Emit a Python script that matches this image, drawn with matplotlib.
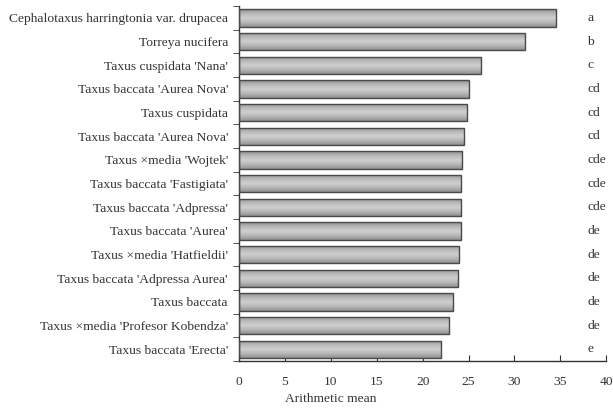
import numpy as np
import matplotlib
matplotlib.use("Agg")
import matplotlib.pyplot as plt
from matplotlib.colors import LinearSegmentedColormap

species = [
    "Cephalotaxus harringtonia var. drupacea",
    "Torreya nucifera",
    "Taxus cuspidata 'Nana'",
    "Taxus baccata 'Aurea Nova'",
    "Taxus cuspidata",
    "Taxus baccata 'Aurea Nova'",
    "Taxus \u00d7media 'Wojtek'",
    "Taxus baccata 'Fastigiata'",
    "Taxus baccata 'Adpressa'",
    "Taxus baccata 'Aurea'",
    "Taxus \u00d7media 'Hatfieldii'",
    "Taxus baccata 'Adpressa Aurea'",
    "Taxus baccata",
    "Taxus \u00d7media 'Profesor Kobendza'",
    "Taxus baccata 'Erecta'",
]
means = [34.5, 31.1, 26.4, 25.0, 24.8, 24.5, 24.3, 24.2, 24.2, 24.2, 24.0, 23.9, 23.3, 22.9, 22.0]
groups = ["a", "b", "c", "cd", "cd", "cd", "cde", "cde", "cde", "de", "de", "de", "de", "de", "e"]
xticks = [0, 5, 10, 15, 20, 25, 30, 35, 40]

plt.rcParams['font.family'] = ['Liberation Serif', 'DejaVu Serif']
txt = '#333333'
fs = 9.7

fig = plt.figure(figsize=(6.13, 4.09), dpi=100)
ax = fig.add_axes([0.39, 0.117, 0.599, 0.868])

n = len(species)
ypos = np.arange(n)
bars = ax.barh(ypos, means, height=0.74, color='none', edgecolor='#4a4a4a', linewidth=1.0, zorder=3)

cmap = LinearSegmentedColormap.from_list('g', ['#909090', '#b8b8b8', '#cfcfcf', '#b8b8b8', '#909090'])
grad = np.linspace(0, 1, 64).reshape(-1, 1)
for b in bars:
    x0, y0 = b.get_x(), b.get_y()
    w, h = b.get_width(), b.get_height()
    im = ax.imshow(grad, cmap=cmap, aspect='auto', extent=(x0, x0 + w, y0, y0 + h),
                   origin='lower', zorder=2, interpolation='bilinear')
    im.set_clip_path(b)

ax.set_ylim(n - 0.5, -0.5)
ax.set_xlim(0, 40)
ax.set_xticks(xticks)
ax.set_xticklabels([str(t) for t in xticks], fontsize=fs, color=txt)
ax.set_yticks(ypos)
ax.set_yticklabels(species, fontsize=fs, color=txt)
ax.tick_params(axis='y', length=0, pad=8)
ax.set_yticks(np.arange(-0.5, n, 1.0), minor=True)
ax.tick_params(axis='y', which='minor', length=4, direction='out', color='#333333')
ax.tick_params(axis='x', length=4, direction='in', color='#333333', pad=11)

for s in ['top', 'right']:
    ax.spines[s].set_visible(False)
for s in ['left', 'bottom']:
    ax.spines[s].set_color('#333333')
    ax.spines[s].set_linewidth(1.0)

for yv, g in zip(ypos, groups):
    ax.text(0.949, yv, g, transform=ax.get_yaxis_transform(), ha='left', va='center',
            fontsize=fs, color=txt)

ax.set_xlabel("Arithmetic mean", fontsize=fs, color=txt)
ax.xaxis.set_label_coords(0.25, -0.09)

fig.savefig("out.png", dpi=100)
